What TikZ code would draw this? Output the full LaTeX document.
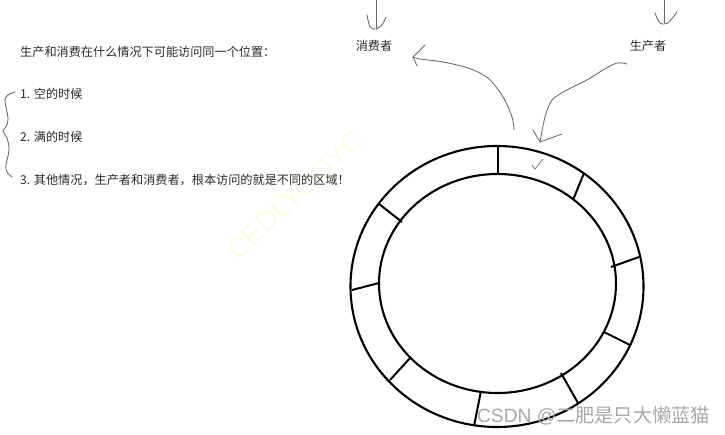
\documentclass[tikz,border=0pt]{standalone}
\usepackage{fontspec}
\setmainfont{Noto Sans CJK SC}
\newfontfamily\wmfont{Liberation Sans}
\newfontfamily\cjkwm{Noto Sans CJK SC}
\definecolor{txt}{HTML}{2A2A2A}
\definecolor{pen}{HTML}{686868}
\definecolor{mark}{HTML}{F5FFE6}
\definecolor{csdn}{HTML}{A8A8A8}
\tikzset{
  lbl/.style={font=\fontsize{12.15}{14}\selectfont,text=txt,inner sep=0pt},
  item/.style={lbl,anchor=west},
  ringline/.style={black,line width=2.1pt},
  spoke/.style={black,line width=2pt},
  hand/.style={pen,line width=0.85pt,line join=round,line cap=round}
}
\begin{document}
\begin{tikzpicture}[x=1pt,y=-1pt]
\useasboundingbox (0,0) rectangle (725,435);
\fill[white] (0,0) rectangle (725,435);
% pale watermark
\node[rotate=43,text=mark,font=\wmfont\fontsize{28}{30}\selectfont,inner sep=0pt] (wm) at (295,195) {CEDLYOOYC};
% text
\node[item] (title) at (20,52) {生产和消费在什么情况下可能访问同一个位置：};
\node[item] (one) at (20,94) {1. 空的时候};
\node[item] (two) at (20,137) {2. 满的时候};
\node[item] (three) at (20,180) {3. 其他情况，生产者和消费者，根本访问的就是不同的区域！};
\node[lbl] (cons) at (374,46) {消费者};
\node[lbl] (prod) at (648,46) {生产者};
% ring
\draw[ringline] (497,286.5) ellipse [x radius=146.5,y radius=140.5];
\draw[ringline] (497.5,283.5) ellipse [x radius=118.5,y radius=109.5];
\draw[spoke] (498,146) -- (498,174);
\draw[spoke] (584,173) -- (573,200);
\draw[spoke] (639,257) -- (611,267);
\draw[spoke] (630,345) -- (604,332);
\draw[spoke] (578,403) -- (561,373);
\draw[spoke] (474,426) -- (481,391);
\draw[spoke] (390,380) -- (411,357);
\draw[spoke] (352,290) -- (379,283);
\draw[spoke] (379,204) -- (402,222);
% hand strokes
\coordinate (constop) at (376,0);
\coordinate (constip) at (376,29);
\coordinate (prodtop) at (664,0);
\coordinate (prodtip) at (664,23);
\coordinate (ringa) at (514,130);
\coordinate (consb) at (413,57);
\coordinate (prodb) at (627,64);
\coordinate (ringb) at (540,142);
\draw[hand] (constop) -- (constip);
\draw[hand] plot[smooth] coordinates {(367,15) (370,27) (constip) (382,25) (386,17)};
\draw[hand] (prodtop) -- (prodtip);
\draw[hand] plot[smooth] coordinates {(655,13) (660,23) (668,23) (677,12)};
\draw[hand] plot[smooth,tension=0.5] coordinates {(ringa) (512,117) (503,97) (488,78) (468,68) (443,62) (420,59) (consb)};
\draw[hand] (425,45) -- (consb) -- (417,66);
\draw[hand] plot[smooth,tension=0.5] coordinates {(prodb) (617,63) (603,70) (587,80) (567,90) (552,100) (545,117) (ringb)};
\draw[hand] (533,130) -- (ringb) -- (562,134);
% tick
\draw[pen,line width=0.7pt] (532,165) -- (535,169) -- (543,159);
% brace
\draw[hand] plot[smooth,tension=0.6] coordinates {(15,92) (8,95) (5,101) (8,118) (6,127) (3,131) (7,138) (9,150) (6,165) (7,172) (12,177)};
% csdn
\node[text=csdn,font=\wmfont\fontsize{19.2}{21}\selectfont,inner sep=0pt] (cs) at (593.5,416) {CSDN @{\cjkwm 二肥是只大懒蓝猫}};
\end{tikzpicture}
\end{document}
